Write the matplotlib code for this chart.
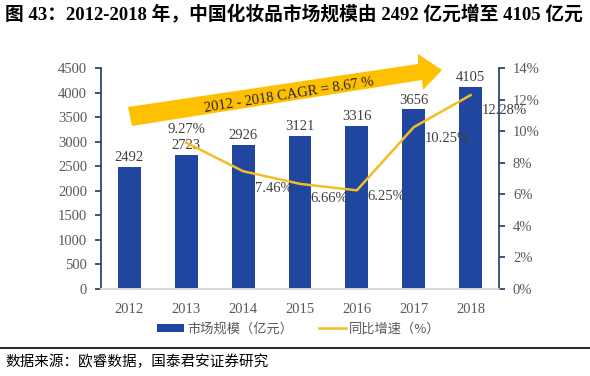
import matplotlib
matplotlib.use("Agg")
import matplotlib.pyplot as plt
from matplotlib.patches import Polygon, Patch
from matplotlib.lines import Line2D

years = ["2012", "2013", "2014", "2015", "2016", "2017", "2018"]
market_size = [2492, 2723, 2926, 3121, 3316, 3656, 4105]
growth_years = ["2013", "2014", "2015", "2016", "2017", "2018"]
growth = [9.27, 7.46, 6.66, 6.25, 10.25, 12.28]

BAR = "#2046A0"
LINE = "#F2BE22"
ARROW = "#FFC000"
GREY = "#595959"
SERIF = ["Liberation Serif", "Noto Sans CJK SC"]
CJK = ["Noto Sans CJK SC", "DejaVu Sans"]

W, H = 590, 376
fig = plt.figure(figsize=(W / 100, H / 100), dpi=100)
ax = fig.add_axes([101 / W, 1 - 289 / H, 398 / W, 221 / H])
ax2 = ax.twinx()

x = list(range(len(years)))
ax.bar(x, market_size, width=0.4, color=BAR, zorder=2)
for xi, v in zip(x, market_size):
    ax.text(xi, v + 60, str(v), ha="center", va="bottom", fontsize=10.5,
            family=SERIF, color="#404040", zorder=5)

gx = [years.index(y) for y in growth_years]
ax2.plot(gx, growth, color=LINE, lw=1.8, zorder=3)

# label placement: (dx in categories, dy in %, horizontal alignment)
offsets = [(0.0, 0.82, "center"), (0.2, -1.08, "left"), (0.18, -0.95, "left"),
           (0.18, -0.4, "left"), (0.19, -0.7, "left"), (0.19, -1.0, "left")]
for xi, v, (dx, dy, ha) in zip(gx, growth, offsets):
    ax2.text(xi + dx, v + dy, f"{v:.2f}%", ha=ha, va="center", fontsize=10.5,
             family=SERIF, color="#404040", zorder=5)

ax.set_xlim(-0.5, 6.5)
ax.set_ylim(0, 4500)
ax.set_yticks(range(0, 4501, 500))
ax2.set_ylim(0, 14)
ax2.set_yticks(range(0, 15, 2))
ax2.set_yticklabels([f"{t}%" for t in range(0, 15, 2)])
ax.set_xticks(x)
ax.set_xticklabels(years)

for a in (ax, ax2):
    a.spines["top"].set_visible(False)
    a.spines["bottom"].set_color("#D9D9D9")
    a.spines["bottom"].set_linewidth(1.2)
    for lab in a.get_xticklabels() + a.get_yticklabels():
        lab.set_family(SERIF)
        lab.set_fontsize(10.5)
        lab.set_color(GREY)
ax.spines["right"].set_visible(False)
ax2.spines["left"].set_visible(False)
ax.spines["left"].set_color("#1F3864")
ax2.spines["right"].set_color("#1F3864")
ax.spines["left"].set_linewidth(1.2)
ax2.spines["right"].set_linewidth(1.2)
ax.tick_params(axis="y", color="#1F3864", length=4, width=1.2, pad=6)
ax2.tick_params(axis="y", color="#1F3864", length=4, width=1.2, pad=6)
ax.tick_params(axis="x", length=0, pad=10)


# yellow CAGR arrow, in figure pixels
def fp(px, py):
    return (px / W, 1 - py / H)


arrow_pts = [(128, 107), (418, 64), (418, 54), (442, 70), (423, 90), (422, 80), (132, 126)]
fig.add_artist(Polygon([fp(*p) for p in arrow_pts], closed=True, facecolor=ARROW,
                       edgecolor="none", transform=fig.transFigure, zorder=4))
fig.text(*fp(289, 95), "2012 - 2018 CAGR = 8.67 %", rotation=9, ha="center",
         va="center", fontsize=10.5, family=SERIF, color="#262626", zorder=6,
         rotation_mode="anchor")

# legend
handles = [Patch(facecolor=BAR, edgecolor="none"),
           Line2D([0], [0], color=LINE, lw=1.8)]
leg = fig.legend(handles, ["市场规模（亿元）", "同比增速（%）"], loc="center",
                 bbox_to_anchor=(299 / W, 1 - 329 / H), ncol=2, frameon=False,
                 prop={"family": CJK, "size": 9.5}, handlelength=2.0,
                 handleheight=0.5, columnspacing=2.0, handletextpad=0.25)
for t in leg.get_texts():
    t.set_color(GREY)

# title and source
fig.text(5 / W, 1 - 15 / H,
         "图 43：2012-2018 年，中国化妆品市场规模由 2492 亿元增至 4105 亿元",
         ha="left", va="center", fontsize=13.5, fontweight="bold", family=SERIF,
         color="black")
fig.add_artist(Line2D([0, 1], [1 - 348 / H, 1 - 348 / H], color="black", lw=1.2,
                      transform=fig.transFigure))
fig.text(5 / W, 1 - 362 / H, "数据来源：欧睿数据，国泰君安证券研究", ha="left",
         va="center", fontsize=10.5, family=CJK, color="black")

fig.savefig("out.png", dpi=100)
